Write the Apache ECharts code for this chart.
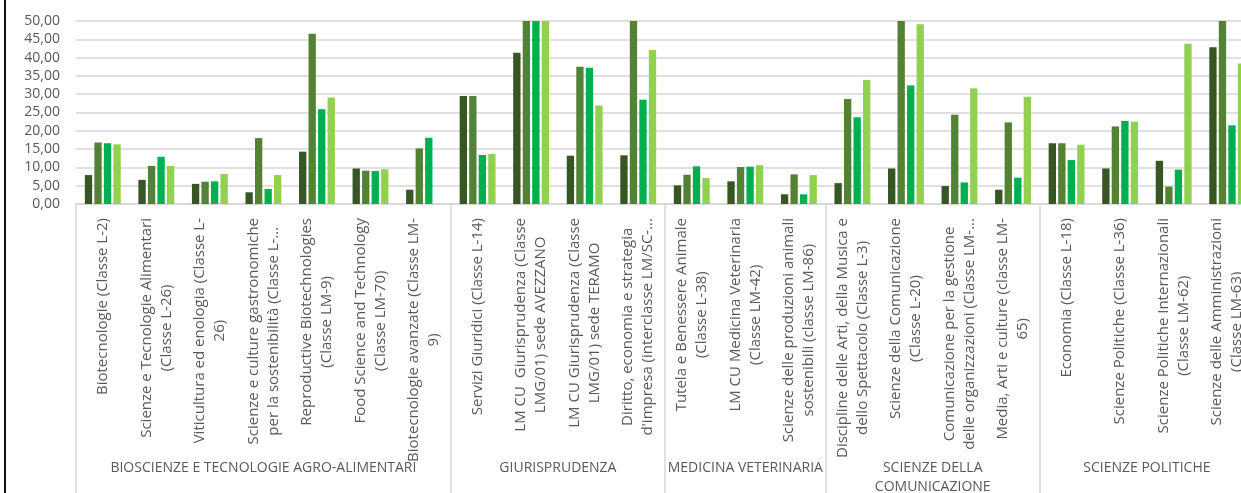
<!DOCTYPE html>
<html><head><meta charset="utf-8">
<script src="https://cdn.jsdelivr.net/npm/echarts@6/dist/echarts.min.js"></script>
<style>html,body{margin:0;padding:0;background:#fff}#c{width:1241px;height:493px}</style>
</head><body><div id="c"></div>
<script>
const categories = [
  "Biotecnologie (Classe L-2)",
  "Scienze e Tecnologie Alimentari\n(Classe L-26)",
  "Viticultura ed enologia (Classe L-\n26)",
  "Scienze e culture gastronomiche\nper la sostenibilità (Classe L-...",
  "Reproductive Biotechnologies\n(Classe LM-9)",
  "Food Science and Technology\n(Classe LM-70)",
  "Biotecnologie avanzate (Classe LM-\n9)",
  "Servizi Giuridici (Classe L-14)",
  "LM CU  Giurisprudenza (Classe\nLMG/01) sede AVEZZANO",
  "LM CU Giurisprudenza (Classe\nLMG/01) sede TERAMO",
  "Diritto, economia e strategia\nd'impresa (interclasse LM/SC-...",
  "Tutela e Benessere Animale\n(Classe L-38)",
  "LM CU Medicina Veterinaria\n(Classe LM-42)",
  "Scienze delle produzioni animali\nsostenibili (classe LM-86)",
  "Discipline delle Arti, della Musica e\ndello Spettacolo (Classe L-3)",
  "Scienze della Comunicazione\n(Classe L-20)",
  "Comunicazione per la gestione\ndelle organizzazioni (Classe LM-...",
  "Media, Arti e culture (classe LM-\n65)",
  "Economia (Classe L-18)",
  "Scienze Politiche (Classe L-36)",
  "Scienze Politiche Internazionali\n(Classe LM-62)",
  "Scienze delle Amministrazioni\n(Classe LM-63)"
];
const groupNames = ["BIOSCIENZE E TECNOLOGIE AGRO-ALIMENTARI", "GIURISPRUDENZA", "MEDICINA VETERINARIA", "SCIENZE DELLA\nCOMUNICAZIONE", "SCIENZE POLITICHE"];
const groupSizes = [7, 4, 3, 4, 4];

const serie1 = [7.9, 6.6, 5.5, 3.2, 14.3, 9.7, 3.9, 29.5, 41.3, 13.2, 13.3, 5.1, 6.2, 2.65, 5.7, 9.7, 4.9, 3.9, 16.6, 9.7, 11.8, 42.8];
const serie2 = [16.8, 10.4, 6.1, 18.0, 46.5, 9.1, 15.2, 29.5, 50, 37.5, 50, 8.0, 10.1, 8.1, 28.7, 50, 24.4, 22.3, 16.6, 21.2, 4.75, 50];
const serie3 = [16.6, 12.9, 6.2, 4.1, 25.9, 9.0, 18.1, 13.4, 50, 37.2, 28.5, 10.3, 10.2, 2.65, 23.7, 32.4, 5.9, 7.2, 12.0, 22.7, 9.4, 21.5];
const serie4 = [16.3, 10.4, 8.2, 7.9, 29.1, 9.5, null, 13.7, 50, 26.9, 42.1, 7.1, 10.6, 7.9, 33.9, 49.1, 31.6, 29.3, 16.2, 22.5, 43.8, 38.4];
const seriesNames = ["Serie 1", "Serie 2", "Serie 3", "Serie 4"];
const seriesColors = ["#375623", "#548235", "#00B050", "#92D050"];

// group boundaries and centres derived from group sizes
const bounds = [0];
groupSizes.forEach(s => bounds.push(bounds[bounds.length - 1] + s));
const centers = groupSizes.map((s, i) => bounds[i] + s / 2);

const FONT = "Open Sans";
const GREY = "#595959";
const LINE = "#d6d6d6";

const chart = echarts.init(document.getElementById('c'), null, {renderer: 'canvas'});
chart.setOption({
  animation: false,
  backgroundColor: '#fff',
  textStyle: {fontFamily: FONT},
  grid: {left: 76, top: 21, width: 1178, height: 183, containLabel: false, outerBoundsMode: 'none'},
  xAxis: [{
    type: 'category',
    data: categories,
    axisLine: {show: true, lineStyle: {color: LINE, width: 1.5}},
    axisTick: {show: false},
    axisLabel: {
      interval: 0, rotate: 90, margin: 14, hideOverlap: false,
      fontSize: 15, lineHeight: 20, color: GREY, fontFamily: FONT,
      formatter: v => v.split('\n').map(l => '{c|' + l + '}').join('\n'),
      rich: {c: {align: 'center', fontSize: 15, lineHeight: 20, color: GREY, fontFamily: FONT}}
    }
  }, {
    type: 'value',
    position: 'bottom',
    min: 0, max: bounds[bounds.length - 1],
    axisLine: {show: false},
    splitLine: {show: false},
    axisTick: {show: true, customValues: bounds, length: 289, lineStyle: {color: LINE, width: 1.5}},
    axisLabel: {
      customValues: centers, margin: 255, verticalAlign: 'top', align: 'center',
      fontSize: 14, lineHeight: 19, color: GREY, fontFamily: FONT,
      formatter: v => groupNames[centers.indexOf(v)] || ''
    }
  }],
  yAxis: {
    type: 'value', min: 0, max: 50, interval: 5,
    axisLine: {show: false}, axisTick: {show: false},
    axisLabel: {margin: 16, fontSize: 14, color: GREY, fontFamily: FONT,
      formatter: v => v.toFixed(2).replace('.', ',')},
    splitLine: {lineStyle: {color: LINE, width: 1.5}}
  },
  series: [serie1, serie2, serie3, serie4].map((d, i) => ({
    name: seriesNames[i], type: 'bar', data: d, xAxisIndex: 0,
    barGap: '30%', barCategoryGap: '33%',
    itemStyle: {color: seriesColors[i]}
  })),
  graphic: [{
    type: 'rect', left: 4, top: 0, shape: {width: 2, height: 493}, style: {fill: '#111'}
  }]
});
</script></body></html>
